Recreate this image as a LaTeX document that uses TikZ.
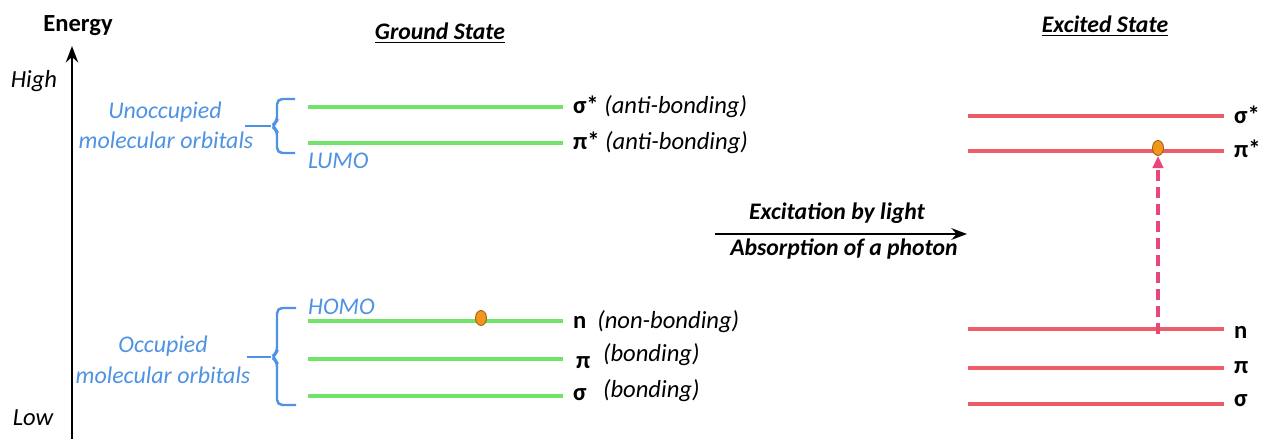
\documentclass[tikz,border=0pt]{standalone}
\usepackage{fontspec}
\setmainfont{Carlito}
\usetikzlibrary{arrows.meta,shapes.geometric}
\definecolor{lvlgreen}{RGB}{112,228,102}
\definecolor{lvlred}{RGB}{238,92,104}
\definecolor{jumpcol}{RGB}{232,72,120}
\definecolor{orbblue}{RGB}{78,146,228}
\definecolor{eleccol}{RGB}{242,150,28}

\begin{document}
\begin{tikzpicture}[x=1cm,y=1cm,>=Stealth,font=\fontsize{14}{16}\selectfont,
  glevel/.style={lvlgreen,line width=2.3pt},
  elevel/.style={lvlred,line width=2.3pt},
  orbtxt/.style={orbblue,font=\fontsize{13.6}{16}\selectfont\itshape,inner sep=1pt},
  lbl/.style={anchor=west,inner sep=1pt},
  electron/.style={ellipse,minimum width=.22cm,minimum height=.3cm,inner sep=0,fill=eleccol,draw=eleccol!65!black,line width=.5pt}]
\useasboundingbox (0,0) rectangle (25.22,8.78);
% energy axis
\coordinate (ax0) at (1.44,0);
\coordinate (ax1) at (1.44,7.86);
\draw[line width=1.4pt,->] (ax0)--(ax1);
\node[font=\fontsize{14}{16}\selectfont\bfseries] (energy) at (1.56,8.26) {Energy};
\node[font=\fontsize{14}{16}\selectfont\itshape] (high) at (0.68,7.16) {High};
\node[font=\fontsize{14}{16}\selectfont\itshape] (low) at (0.66,0.42) {Low};
% headings
\node[font=\fontsize{13.5}{16}\selectfont\bfseries\itshape] (gstate) at (8.80,8.12) {\underline{Ground State}};
\node[font=\fontsize{13.5}{16}\selectfont\bfseries\itshape] (estate) at (22.10,8.26) {\underline{Excited State}};
% ground state levels
\foreach \n/\y in {gss/6.64,gps/5.92,gn/2.36,gp/1.60,gs/0.86}{
  \coordinate (\n a) at (6.16,\y);
  \coordinate (\n b) at (11.26,\y);
  \draw[glevel] (\n a)--(\n b);}
% excited state levels
\foreach \n/\y in {ess/6.46,eps/5.76,en/2.20,ep/1.42,es/0.70}{
  \coordinate (\n a) at (19.36,\y);
  \coordinate (\n b) at (24.48,\y);
  \draw[elevel] (\n a)--(\n b);}
% level labels
\node[lbl] (lgss) at (11.42,6.64) {\textbf{σ*} \textit{(anti-bonding)}};
\node[lbl] (lgps) at (11.42,5.92) {\textbf{π*} \textit{(anti-bonding)}};
\node[lbl] (lgn) at (11.42,2.34) {\textbf{n}\hspace{.22cm}\textit{(non-bonding)}};
\node[lbl] (lgp) at (11.48,1.52) {\textbf{π}};
\node[lbl] (lgpb) at (12.02,1.68) {\textit{(bonding)}};
\node[lbl] (lgs) at (11.42,0.88) {\textbf{σ}};
\node[lbl] (lgsb) at (12.02,0.96) {\textit{(bonding)}};
\node[lbl] (less) at (24.64,6.48) {\textbf{σ*}};
\node[lbl] (leps) at (24.64,5.80) {\textbf{π*}};
\node[lbl] (len) at (24.64,2.14) {\textbf{n}};
\node[lbl] (lep) at (24.64,1.42) {\textbf{π}};
\node[lbl] (les) at (24.64,0.76) {\textbf{σ}};
\node[orbtxt,anchor=west] (lumo) at (6.12,5.56) {LUMO};
\node[orbtxt,anchor=west] (homo) at (6.12,2.64) {HOMO};
% braces
\coordinate (ubt) at (4.90,6.26);
\coordinate (lbt) at (4.94,1.64);
\draw[orbblue,line width=1.4pt,rounded corners=3pt] (5.90,6.80)--(5.54,6.80)--(5.54,6.34)--(5.42,6.26)--(5.54,6.18)--(5.54,5.72)--(5.90,5.72);
\draw[orbblue,line width=1.4pt] (5.42,6.26)--(ubt);
\draw[orbblue,line width=1.4pt,rounded corners=3pt] (5.92,2.62)--(5.54,2.62)--(5.54,1.72)--(5.42,1.64)--(5.54,1.56)--(5.54,0.68)--(5.92,0.68);
\draw[orbblue,line width=1.4pt] (5.42,1.64)--(lbt);
\node[orbtxt] (unocc) at (3.30,6.54) {Unoccupied};
\node[orbtxt] (unocc2) at (3.32,5.98) {molecular orbitals};
\node[orbtxt] (occ) at (3.26,1.86) {Occupied};
\node[orbtxt] (occ2) at (3.26,1.28) {molecular orbitals};
% excitation arrow
\coordinate (exa) at (14.30,4.10);
\coordinate (exb) at (19.34,4.10);
\draw[line width=1.3pt,->] (exa)--(exb);
\node[font=\fontsize{13.5}{16}\selectfont\bfseries\itshape] (exc) at (16.74,4.52) {Excitation by light};
\node[font=\fontsize{13.5}{16}\selectfont\bfseries\itshape] (abs) at (16.88,3.80) {Absorption of a photon};
% electrons and jump
\node[electron] (e1) at (9.62,2.42) {};
\node[electron] (e2) at (23.16,5.82) {};
\coordinate (jfrom) at (23.16,2.10);
\draw[jumpcol,line width=2pt,dash pattern=on .22cm off .12cm,-{Triangle[length=7pt,width=6pt]}] (jfrom)--(e2.south);
\end{tikzpicture}
\end{document}
